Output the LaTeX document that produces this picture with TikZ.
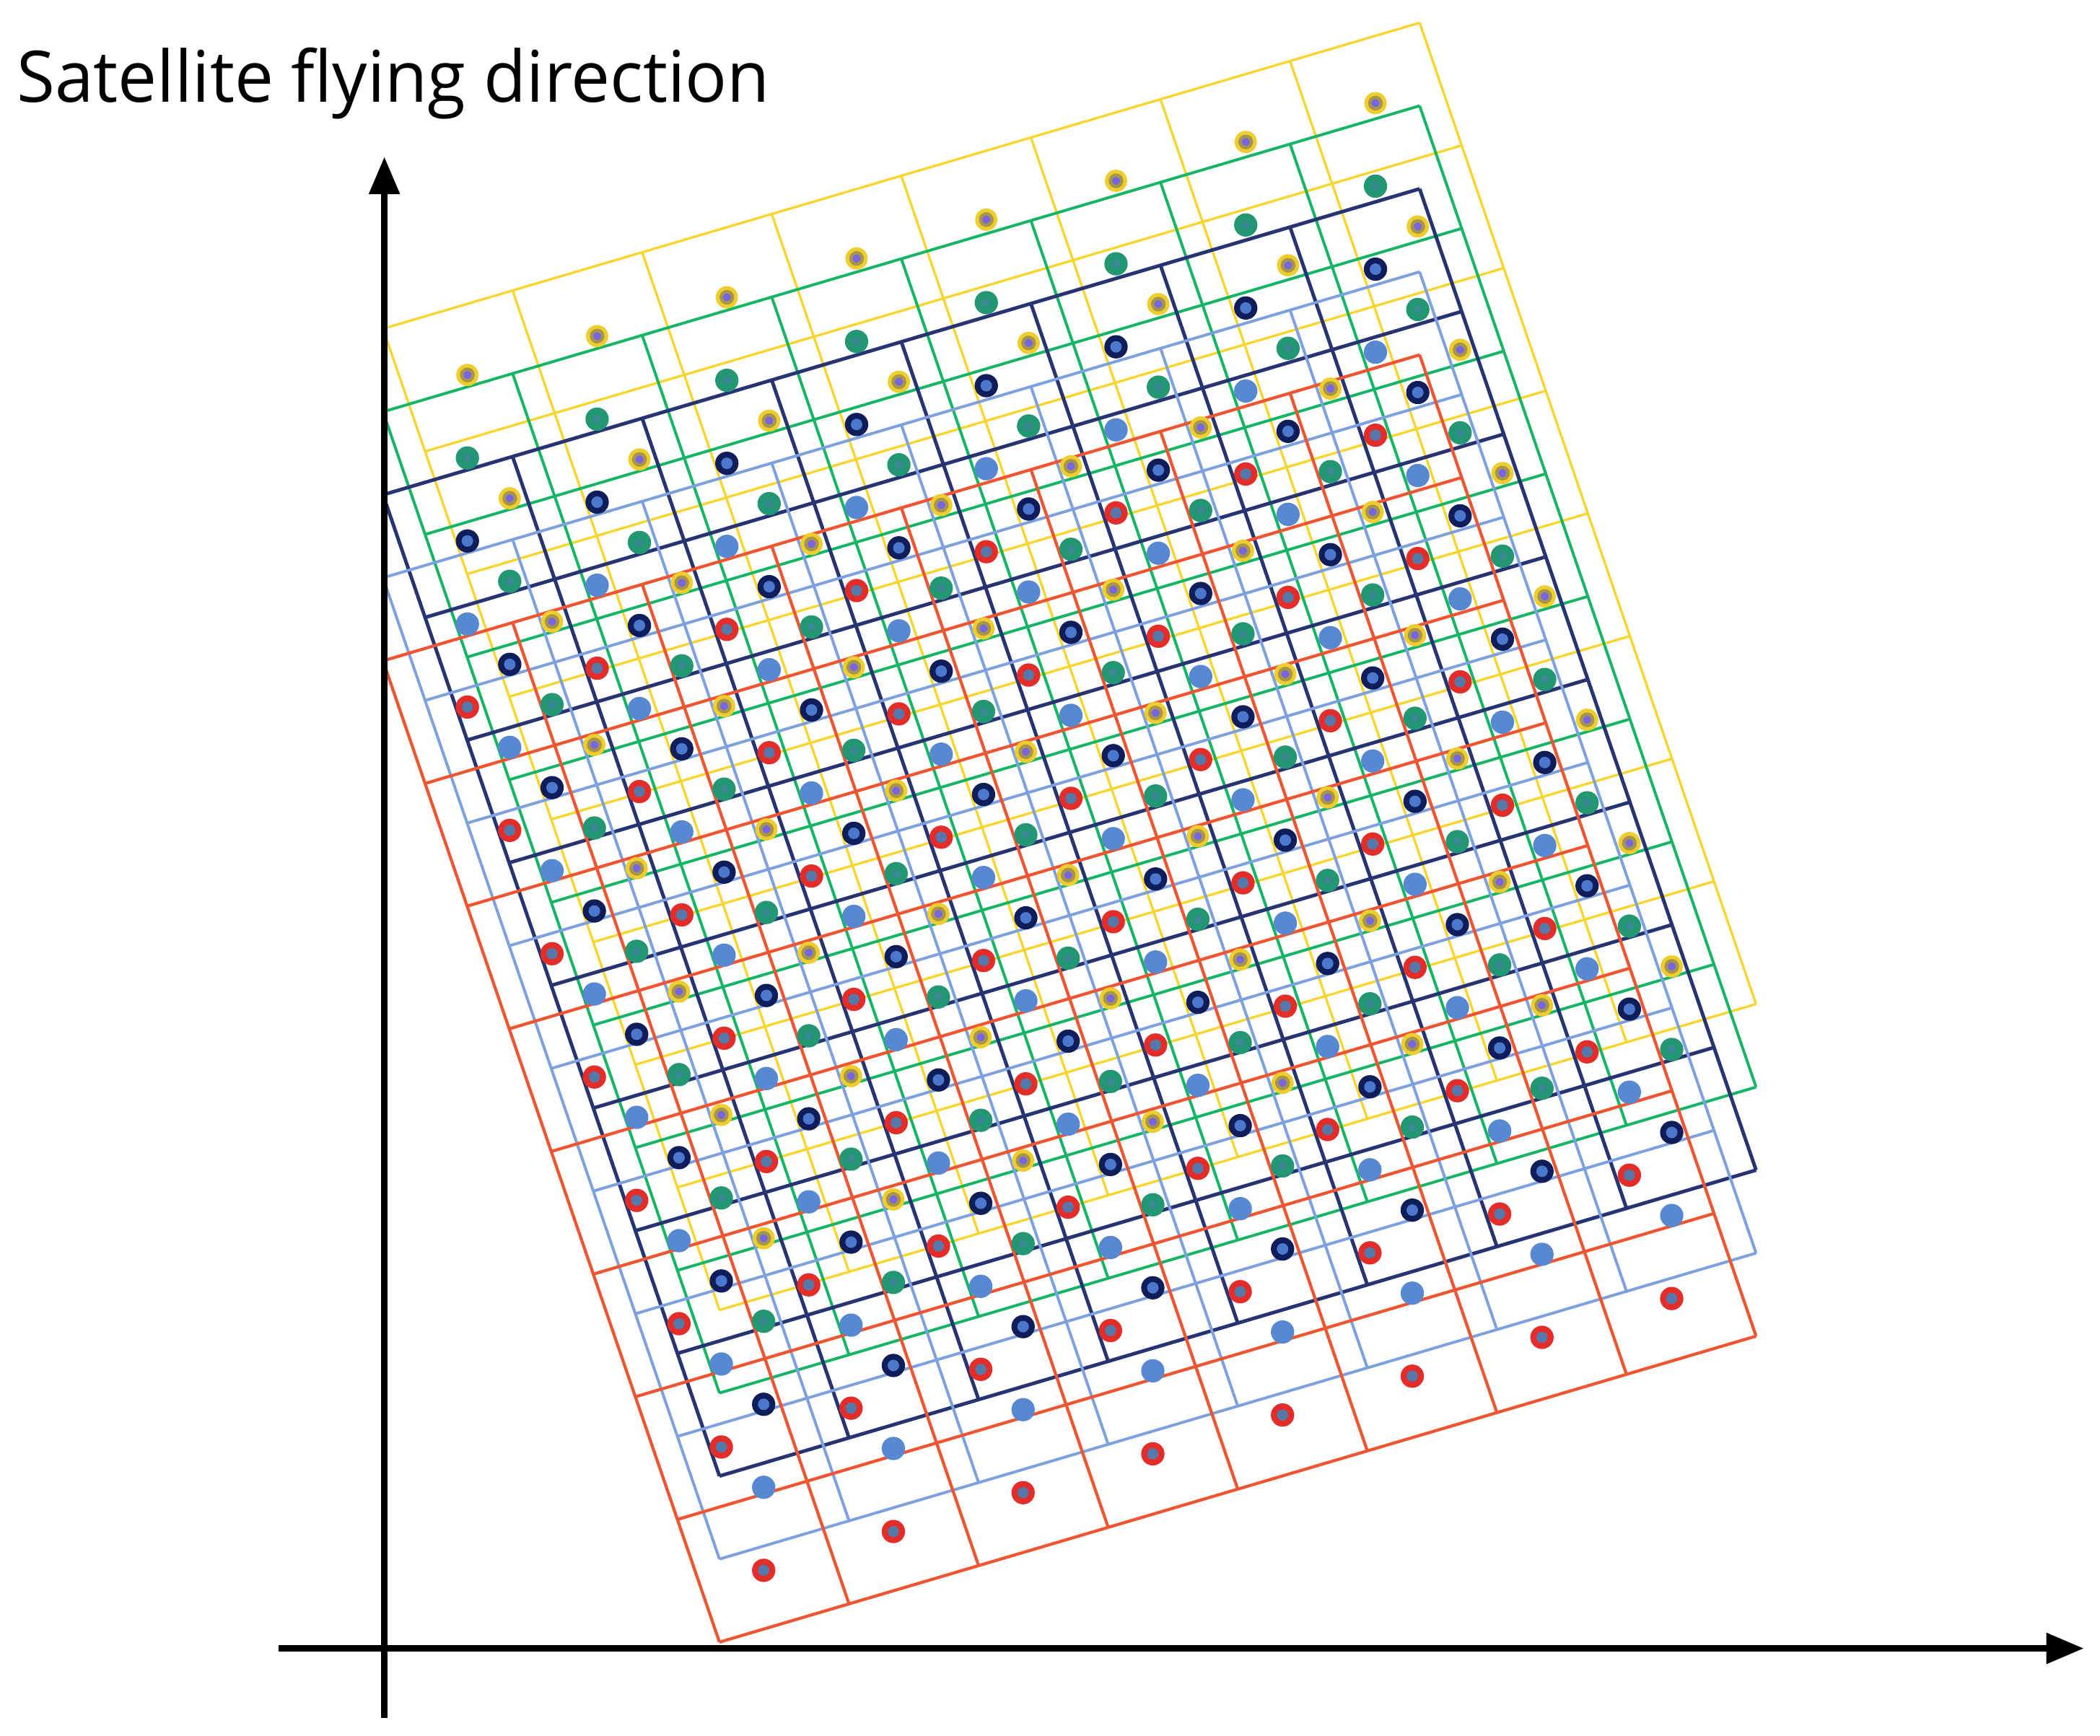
\documentclass[tikz,border=0pt]{standalone}
\usepackage{fontspec}
\setmainfont{Open Sans}
\usetikzlibrary{arrows.meta}
\definecolor{ylin}{RGB}{250,212,40}
\definecolor{glin}{RGB}{20,182,100}
\definecolor{nlin}{RGB}{38,52,115}
\definecolor{blin}{RGB}{125,160,225}
\definecolor{rlin}{RGB}{240,85,50}
\definecolor{ydotA}{RGB}{238,205,45}
\definecolor{ydotB}{RGB}{165,150,75}
\definecolor{ydotC}{RGB}{120,100,230}
\definecolor{gdotA}{RGB}{35,150,115}
\definecolor{gdotC}{RGB}{60,135,150}
\definecolor{ndotA}{RGB}{15,30,90}
\definecolor{ndotC}{RGB}{75,120,205}
\definecolor{bdotA}{RGB}{88,136,210}
\definecolor{rdotA}{RGB}{228,45,40}
\definecolor{rdotC}{RGB}{85,120,170}
\tikzset{
  axisline/.style={line width=1.45pt, -{Triangle[length=0.28cm,width=0.22cm]}},
}
\newcommand\mygrid[3]{% #1 = index k, #2 = colour, #3 = width
  \foreach \i in {0,...,8}{
    \draw[#2, line width=#3] ({286+\i*96.75},{245.5+62*#1-\i*28.56}) -- ++(251.2,732.8);
    \draw[#2, line width=#3] ({286+\i*31.4},{245.5+62*#1+\i*91.6}) -- ++(774,-228.5);
  }
}
\newcommand\mydots[2]{% #1 = index k, #2 = drawing code using (\px,\py)
  \foreach \i in {0,...,7}{
    \foreach \j in {0,...,7}{
      \pgfmathsetmacro\px{349+\i*96.86+\j*31.6}
      \pgfmathsetmacro\py{280+62*#1-\i*29+\j*92.1}
      #2
    }
  }
}
\begin{document}
\begin{tikzpicture}[x=0.01cm,y=-0.01cm]
\useasboundingbox[fill=white] (0,0) rectangle (1568,1296);
% grids
\mygrid{0}{ylin}{0.5pt}
\mygrid{1}{glin}{0.6pt}
\mygrid{2}{nlin}{0.75pt}
\mygrid{3}{blin}{0.6pt}
\mygrid{4}{rlin}{0.65pt}
% dots
\mydots{0}{\fill[ydotA] (\px,\py) circle[radius=0.083cm]; \fill[ydotB] (\px,\py) circle[radius=0.055cm]; \fill[ydotC] (\px,\py) circle[radius=0.03cm];}
\mydots{1}{\fill[gdotA] (\px,\py) circle[radius=0.087cm]; \fill[gdotC] (\px,\py) circle[radius=0.03cm];}
\mydots{2}{\fill[ndotA] (\px,\py) circle[radius=0.087cm]; \fill[ndotC] (\px,\py) circle[radius=0.043cm];}
\mydots{3}{\fill[bdotA] (\px,\py) circle[radius=0.087cm];}
\mydots{4}{\fill[rdotA] (\px,\py) circle[radius=0.087cm]; \fill[rdotC] (\px,\py) circle[radius=0.042cm];}
% axes
\coordinate (yb) at (287,1283);
\coordinate (yt) at (287,117);
\coordinate (xl) at (208,1231);
\coordinate (xr) at (1556,1231);
\draw[axisline] (yb) -- (yt);
\draw[axisline] (xl) -- (xr);
\node[anchor=base west, inner sep=0pt, font=\fontsize{15.1pt}{18pt}\selectfont] (title) at (12,76) {\scalebox{0.977}[1]{Satellite flying direction}};
\end{tikzpicture}
\end{document}
